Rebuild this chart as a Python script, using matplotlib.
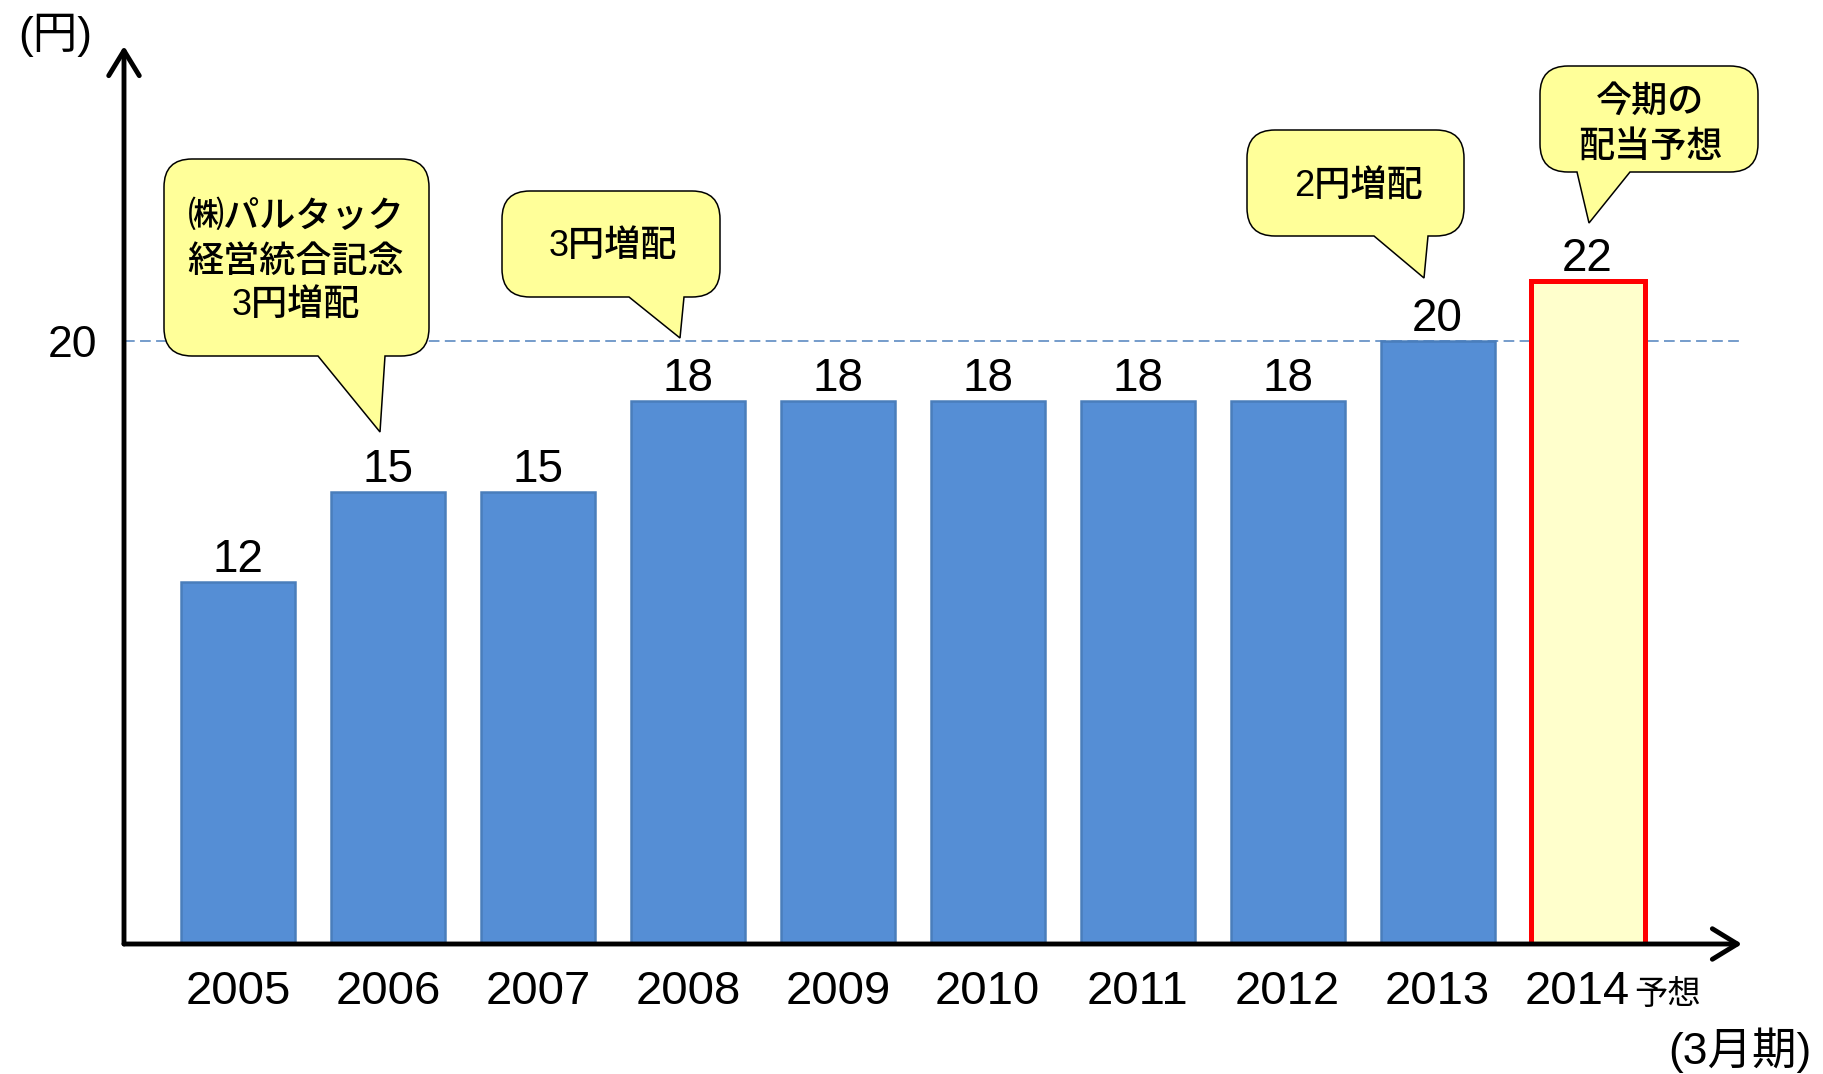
import matplotlib
matplotlib.use('Agg')
import matplotlib.pyplot as plt
from matplotlib.path import Path
from matplotlib.patches import PathPatch
import numpy as np

plt.rcParams['font.family'] = ['Liberation Sans', 'Noto Sans CJK JP', 'DejaVu Sans']

# data =========================================================================
years = ['2005', '2006', '2007', '2008', '2009', '2010', '2011', '2012', '2013', '2014']
dividends = [12, 15, 15, 18, 18, 18, 18, 18, 20, 22]
forecast_suffix = '予想'
ref_value = 20
y_unit = '(円)'
x_unit = '(3月期)'
callout_texts = ['㈱パルタック\n経営統合記念\n3円増配', '3円増配', '2円増配', '今期の\n配当予想']

# callout layout in pixels (left, top, right, bottom), tail base, tail tip, text centre
boxes = [(164, 159, 429, 356), (502, 191, 720, 297), (1247, 130, 1464, 236), (1540, 66, 1758, 172)]
bases = [(318, 385), (629, 684), (1374, 1428), (1577, 1630)]
tips = [(380, 432), (680, 338), (1424, 278), (1589, 223)]
text_pos = [(296, 262), (613, 247), (1358, 187), (1650, 125)]

W, H = 1823, 1074
fig = plt.figure(figsize=(W / 100, H / 100), dpi=100)
ax = fig.add_axes([124 / W, 1 - 944 / H, (1742 - 124) / W, (944 - 46) / H])

# bars =========================================================================
x = np.arange(len(years))
fills = ['#558ED5'] * (len(years) - 1) + ['#FFFFCC']
edges = ['#4A7EBB'] * (len(years) - 1) + ['#FF0000']
lws = [1.8] * (len(years) - 1) + [3.6]
ax.bar(x, dividends, width=0.76, color=fills, edgecolor=edges, linewidth=lws, zorder=2)
ax.axhline(ref_value, color='#4F81BD', lw=1.1, dashes=(7, 3.5), zorder=1)

ax.set_xlim(-0.76, 10.03)
ax.set_ylim(0, 29.78)
for s in ax.spines.values():
    s.set_visible(False)
ax.set_xticks([])
ax.set_yticks([ref_value])
ax.set_yticklabels([str(ref_value)])
ax.tick_params(axis='y', length=0, pad=19, labelsize=32)

# axis arrows
arrow_kw = dict(arrowstyle='->,head_length=0.9,head_width=0.55', lw=3.5, color='black',
                shrinkA=0, shrinkB=0, mutation_scale=20)
ax.annotate('', xy=(0, 1), xytext=(0, 0), xycoords='axes fraction', arrowprops=arrow_kw,
            annotation_clip=False, zorder=4)
ax.annotate('', xy=(1, 0), xytext=(0, 0), xycoords='axes fraction', arrowprops=arrow_kw,
            annotation_clip=False, zorder=4)

# value labels and year labels
for i, v in enumerate(dividends):
    ax.annotate(str(v), xy=(i, v), xytext=(0, 10), textcoords='offset pixels',
                ha='center', va='baseline', fontsize=33)
for i, yr in enumerate(years):
    dx = -10 if i == len(years) - 1 else 0
    ax.annotate(yr, xy=(i, 0), xytext=(dx, -60), textcoords='offset pixels',
                ha='center', va='baseline', fontsize=34, annotation_clip=False)
ax.annotate(forecast_suffix, xy=(len(years) - 1, 0), xytext=(47, -60), textcoords='offset pixels',
            ha='left', va='baseline', fontsize=24, annotation_clip=False)

# overlay for callouts =========================================================
ov = fig.add_axes([0, 0, 1, 1], zorder=5)
ov.set_xlim(0, W)
ov.set_ylim(H, 0)
ov.axis('off')
ov.patch.set_alpha(0)


def callout(box, base, tip, r=28):
    L, T, R, B = box
    x1, x2 = base
    verts = [(L + r, T), (R - r, T), (R, T), (R, T + r), (R, B - r), (R, B), (R - r, B),
             (x2, B), tip, (x1, B), (L + r, B), (L, B), (L, B - r), (L, T + r), (L, T),
             (L + r, T), (L + r, T)]
    codes = [Path.MOVETO, Path.LINETO, Path.CURVE3, Path.CURVE3, Path.LINETO, Path.CURVE3,
             Path.CURVE3, Path.LINETO, Path.LINETO, Path.LINETO, Path.LINETO, Path.CURVE3,
             Path.CURVE3, Path.LINETO, Path.CURVE3, Path.CURVE3, Path.CLOSEPOLY]
    ov.add_patch(PathPatch(Path(verts, codes), facecolor='#FFFF99', edgecolor='black', lw=1.1))


for txt, box, base, tip, pos in zip(callout_texts, boxes, bases, tips, text_pos):
    callout(box, base, tip)
    ov.text(pos[0], pos[1], txt, ha='center', va='center', fontsize=26, linespacing=1.36,
            multialignment='center', fontweight=500)

ov.text(55, 35, y_unit, ha='center', va='center', fontsize=32)
ov.text(1740, 1050, x_unit, ha='center', va='center', fontsize=32)

fig.savefig('out.png', dpi=100)
